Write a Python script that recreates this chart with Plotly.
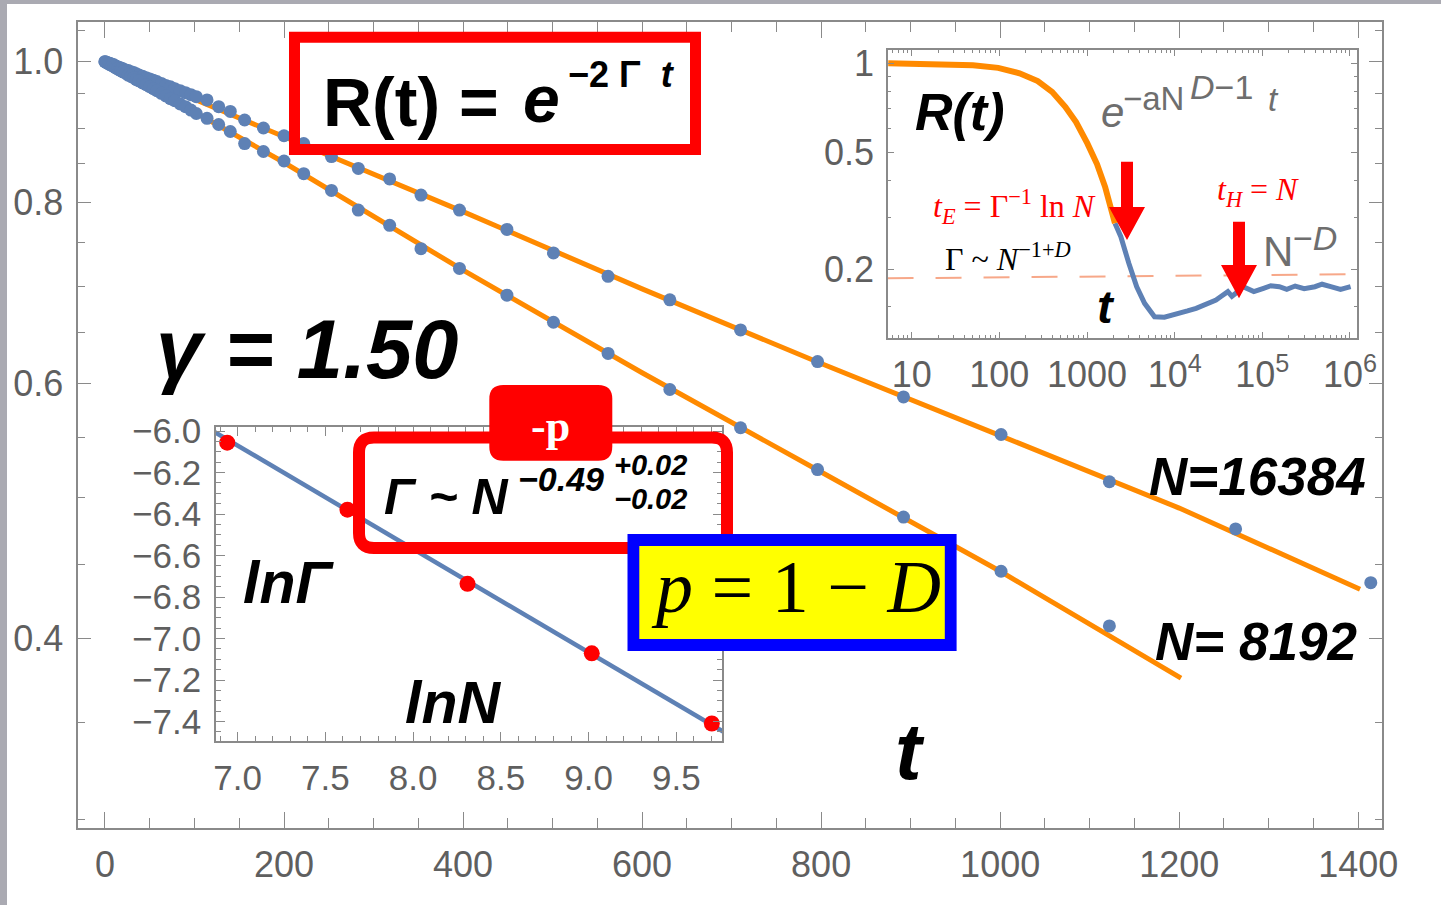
import plotly.graph_objects as go

# ---------------- data ----------------
# main panel: R(t) for two system sizes (log y)
t_obs_16384 = [0, 2, 4, 6, 8, 10, 12, 14, 16, 18, 20, 23, 26, 29, 32, 35, 38, 42, 46, 50, 54, 58,
               63, 68, 73, 78, 84, 90, 96, 102, 114, 127, 140, 156, 177, 200, 222, 253, 283, 318,
               353, 396, 449, 501, 562, 631, 710, 796, 892, 1001, 1122, 1263, 1414]
R_obs_16384 = [1.000, 0.999, 0.998, 0.997, 0.996, 0.995, 0.993, 0.992, 0.991, 0.990, 0.989, 0.987,
               0.986, 0.984, 0.983, 0.981, 0.979, 0.977, 0.975, 0.973, 0.971, 0.969, 0.966, 0.963,
               0.961, 0.958, 0.955, 0.952, 0.949, 0.946, 0.941, 0.931, 0.924, 0.9115, 0.900, 0.889,
               0.878, 0.860, 0.844, 0.830, 0.809, 0.790, 0.766, 0.738, 0.711, 0.685, 0.653, 0.621,
               0.587, 0.553, 0.513, 0.476, 0.437]
t_obs_8192 = [0, 2, 4, 6, 8, 10, 12, 14, 16, 18, 20, 23, 26, 29, 32, 35, 38, 42, 46, 50, 54, 58,
              63, 68, 73, 78, 84, 90, 96, 102, 114, 127, 140, 156, 177, 200, 222, 253, 283, 318,
              353, 396, 449, 501, 562, 631, 710, 796, 892, 1001, 1122]
R_obs_8192 = [1.000, 0.998, 0.997, 0.995, 0.994, 0.992, 0.990, 0.989, 0.987, 0.986, 0.984, 0.982,
              0.979, 0.977, 0.975, 0.972, 0.970, 0.967, 0.964, 0.961, 0.958, 0.955, 0.951, 0.947,
              0.943, 0.940, 0.935, 0.931, 0.926, 0.921, 0.914, 0.905, 0.895, 0.878, 0.867, 0.854,
              0.837, 0.815, 0.790, 0.771, 0.743, 0.720, 0.690, 0.661, 0.629, 0.594, 0.559, 0.523,
              0.485, 0.445, 0.408]
t_fit_16384 = [0, 200, 400, 600, 800, 1000, 1200, 1402]
R_fit_16384 = [1.0, 0.888, 0.788, 0.697, 0.619, 0.552, 0.492, 0.4325]
t_fit_8192 = [0, 200, 400, 600, 800, 1000, 1202]
R_fit_8192 = [1.0, 0.852, 0.718, 0.610, 0.521, 0.445, 0.3755]

# upper-right inset: long-time R(t), log-log
t_in_exp = [5.4, 10, 20, 50, 97, 170, 274, 400, 565, 750, 1009, 1300, 1607, 1850, 2083]
R_in_exp = [1.0, 0.998, 0.995, 0.985, 0.965, 0.925, 0.870, 0.800, 0.712, 0.632, 0.535, 0.455,
            0.381, 0.330, 0.2865]
t_in_sim = [2083, 2432, 2999, 3690, 4540, 5890, 7640, 10450, 14000, 17570, 22000, 26000, 29600,
            34000, 40450, 45000, 49800, 57000, 67900, 80000, 103200, 125000, 156400, 190000,
            237000, 300000, 398000, 480000, 603000, 780000, 1016000]
R_in_sim = [0.2865, 0.258, 0.2096, 0.1746, 0.1533, 0.138, 0.1375, 0.1418, 0.1445, 0.1475, 0.152,
            0.1545, 0.1574, 0.162, 0.168, 0.162, 0.1658, 0.176, 0.171, 0.168, 0.1724, 0.176,
            0.1746, 0.171, 0.1755, 0.172, 0.1746, 0.178, 0.1746, 0.171, 0.1746]
t_in_level = [5.3, 1.2e6]
R_in_level = [0.1864, 0.1924]

# lower-left inset: ln Gamma vs ln N
lnN_pts = [6.941, 7.626, 8.310, 9.018, 9.702]
lnG_pts = [-6.056, -6.379, -6.736, -7.071, -7.409]
lnN_fit = [6.85, 9.78]
lnG_fit = [-5.995, -7.455]

# tick labels
main_x_ticks = [0, 200, 400, 600, 800, 1000, 1200, 1400]
main_x_labels = ["0", "200", "400", "600", "800", "1000", "1200", "1400"]
main_y_ticks = [0.4, 0.6, 0.8, 1.0]
main_y_labels = ["0.4", "0.6", "0.8", "1.0"]
in1_x_ticks = [10, 100, 1000, 1e4, 1e5, 1e6]
in1_x_labels = ["10", "100", "1000", "10<sup>4</sup>", "10<sup>5</sup>", "10<sup>6</sup>"]
in1_y_ticks = [0.2, 0.5, 1]
in1_y_labels = ["0.2", "0.5", "1"]
in2_x_ticks = [7.0, 7.5, 8.0, 8.5, 9.0, 9.5]
in2_x_labels = ["7.0", "7.5", "8.0", "8.5", "9.0", "9.5"]
in2_y_ticks = [-7.4, -7.2, -7.0, -6.8, -6.6, -6.4, -6.2, -6.0]
in2_y_labels = ["\u22127.4", "\u22127.2", "\u22127.0", "\u22126.8", "\u22126.6", "\u22126.4",
                "\u22126.2", "\u22126.0"]

# ---------------- style ----------------
W, H = 1441, 905
BLUE = "#5E81B5"
ORANGE = "#FF8A00"
RED = "#FF0000"
FRAME = "#8a8a8a"
TICKC = "#5f5f5f"
GRAY = "#6e6e6e"
SANS = "Liberation Sans, Arial, sans-serif"
SERIF = "Liberation Serif, Times New Roman, serif"


def X(px):
    return px / W


def Y(py):
    return 1 - py / H


fig = go.Figure()

# main panel
fig.add_trace(go.Scatter(x=t_fit_16384, y=R_fit_16384, mode="lines",
                         line=dict(color=ORANGE, width=5), xaxis="x", yaxis="y"))
fig.add_trace(go.Scatter(x=t_fit_8192, y=R_fit_8192, mode="lines",
                         line=dict(color=ORANGE, width=5), xaxis="x", yaxis="y"))
fig.add_trace(go.Scatter(x=t_obs_16384, y=R_obs_16384, mode="markers",
                         marker=dict(color=BLUE, size=13, line=dict(width=0)), xaxis="x", yaxis="y"))
fig.add_trace(go.Scatter(x=t_obs_8192, y=R_obs_8192, mode="markers",
                         marker=dict(color=BLUE, size=13, line=dict(width=0)), xaxis="x", yaxis="y"))

# inset 1
fig.add_trace(go.Scatter(x=t_in_level, y=R_in_level, mode="lines",
                         line=dict(color="#F7A889", width=2, dash="26px,22px"), xaxis="x2", yaxis="y2"))
fig.add_trace(go.Scatter(x=t_in_sim, y=R_in_sim, mode="lines",
                         line=dict(color=BLUE, width=5), xaxis="x2", yaxis="y2"))
fig.add_trace(go.Scatter(x=t_in_exp, y=R_in_exp, mode="lines",
                         line=dict(color=ORANGE, width=6), xaxis="x2", yaxis="y2"))

# inset 2
fig.add_trace(go.Scatter(x=lnN_fit, y=lnG_fit, mode="lines",
                         line=dict(color=BLUE, width=4.5), xaxis="x3", yaxis="y3"))
fig.add_trace(go.Scatter(x=lnN_pts, y=lnG_pts, mode="markers",
                         marker=dict(color=RED, size=16, line=dict(width=0)), xaxis="x3", yaxis="y3"))


def axis_common(size):
    return dict(showline=True, linecolor=FRAME, linewidth=1.6, mirror="ticks", ticks="inside",
                tickcolor=FRAME, tickwidth=1.3, showgrid=False, zeroline=False, automargin=False,
                tickfont=dict(family=SANS, size=size, color=TICKC), tickmode="array")


in1_minor_x = [k * 10 ** d for d in range(0, 6) for k in range(2, 10)]
in2_minor_x = [6.9 + 0.1 * i for i in range(29)]
in2_minor_y = [-7.45 + 0.05 * i for i in range(30)]

fig.update_layout(
    width=W, height=H, margin=dict(l=0, r=0, t=0, b=0, pad=0, autoexpand=False), autosize=False,
    paper_bgcolor="#aaaab2", plot_bgcolor="white", showlegend=False, hovermode=False,
    xaxis=dict(**axis_common(36), domain=[X(78.3), X(1381.7)], range=[-29.8, 1426.2],
               tickvals=main_x_ticks, ticktext=main_x_labels, ticklen=16, anchor="y",
               ticklabelstandoff=4,
               minor=dict(tickvals=[v for v in range(50, 1426, 50) if v % 200], ticklen=10,
                          ticks="inside", tickcolor=FRAME, tickwidth=1.3)),
    yaxis=dict(**axis_common(36), type="log", domain=[Y(827.7), Y(21.7)], range=[-0.5286, 0.0276],
               tickvals=main_y_ticks, ticktext=main_y_labels, ticklen=13, anchor="x",
               ticklabelstandoff=6,
               minor=dict(tickvals=[0.3, 0.35, 0.45, 0.5, 0.55, 0.65, 0.7, 0.75, 0.85, 0.9, 0.95, 1.05],
                          ticklen=7, ticks="inside", tickcolor=FRAME, tickwidth=1.3)),
    xaxis2=dict(**axis_common(36), type="log", domain=[X(888), X(1357)], range=[0.7296, 6.080],
                tickvals=in1_x_ticks, ticktext=in1_x_labels, ticklen=6, anchor="y2",
                ticklabelstandoff=4,
                minor=dict(tickvals=in1_minor_x, ticklen=3, ticks="inside", tickcolor=FRAME)),
    yaxis2=dict(**axis_common(36), type="log", domain=[Y(338), Y(50)], range=[-0.932, 0.0451],
                tickvals=in1_y_ticks, ticktext=in1_y_labels, ticklen=6, anchor="x2",
                ticklabelstandoff=5,
                minor=dict(tickvals=[0.15, 0.3, 0.4, 0.6, 0.7, 0.8, 0.9], ticklen=3, ticks="inside",
                           tickcolor=FRAME)),
    xaxis3=dict(**axis_common(35), domain=[X(216), X(722)], range=[6.877, 9.760],
                tickvals=in2_x_ticks, ticktext=in2_x_labels, ticklen=9, anchor="y3",
                ticklabelstandoff=5,
                minor=dict(tickvals=in2_minor_x, ticklen=5, ticks="inside", tickcolor=FRAME)),
    yaxis3=dict(**axis_common(35), domain=[Y(740.7), Y(426.7)], range=[-7.492, -5.979],
                tickvals=in2_y_ticks, ticktext=in2_y_labels, ticklen=9, anchor="x3",
                ticklabelstandoff=6,
                minor=dict(tickvals=in2_minor_y, ticklen=5, ticks="inside", tickcolor=FRAME)),
)


def P(px, py):
    return f"{X(px):.5f},{Y(py):.5f}"


def rrect(x0, y0, x1, y1, r):
    return (f"M {P(x0 + r, y0)} L {P(x1 - r, y0)} Q {P(x1, y0)} {P(x1, y0 + r)} "
            f"L {P(x1, y1 - r)} Q {P(x1, y1)} {P(x1 - r, y1)} L {P(x0 + r, y1)} "
            f"Q {P(x0, y1)} {P(x0, y1 - r)} L {P(x0, y0 + r)} Q {P(x0, y0)} {P(x0 + r, y0)} Z")


def arrow(xc, ytop, yneck, ytip, shaft_w, head_w):
    return (f"M {P(xc - shaft_w / 2, ytop)} L {P(xc + shaft_w / 2, ytop)} "
            f"L {P(xc + shaft_w / 2, yneck)} L {P(xc + head_w / 2, yneck)} L {P(xc, ytip)} "
            f"L {P(xc - head_w / 2, yneck)} L {P(xc - shaft_w / 2, yneck)} Z")


shapes = [
    dict(type="rect", xref="paper", yref="paper", x0=X(7), x1=1, y0=0, y1=Y(4),
         fillcolor="white", line=dict(width=0), layer="below"),
    dict(type="rect", xref="paper", yref="paper", x0=X(294.5), x1=X(695.5), y0=Y(149.5), y1=Y(37.2),
         line=dict(color=RED, width=11), layer="above"),
    dict(type="path", xref="paper", yref="paper", path=rrect(359, 437.5, 727, 548, 15),
         line=dict(color=RED, width=12), layer="above"),
    dict(type="path", xref="paper", yref="paper", path=rrect(489.3, 385, 612.3, 460.7, 14),
         fillcolor=RED, line=dict(width=0), layer="above"),
    dict(type="rect", xref="paper", yref="paper", x0=X(633.4), x1=X(950.7), y0=Y(645), y1=Y(540),
         fillcolor="#FFFF00", line=dict(color="#0000FF", width=11.8), layer="above"),
    dict(type="path", xref="paper", yref="paper", path=arrow(1127, 161.7, 207, 240, 12, 36),
         fillcolor=RED, line=dict(width=0), layer="above"),
    dict(type="path", xref="paper", yref="paper", path=arrow(1239, 221.7, 265, 298.3, 12, 36),
         fillcolor=RED, line=dict(width=0), layer="above"),
]


def ann(text, px, py, size, color="black", family=SANS, bold=False, italic=False, xanchor="left"):
    return dict(text=text, x=X(px), y=Y(py), xref="paper", yref="paper", showarrow=False,
                xanchor=xanchor, yanchor="middle",
                font=dict(family=family, size=size, color=color,
                          weight="bold" if bold else "normal",
                          style="italic" if italic else "normal"))


annotations = [
    ann("R(t) =", 321, 101.7, 68, bold=True),
    ann("e", 521, 99, 66, bold=True, italic=True),
    ann("\u22122\u00a0\u0393\u00a0\u00a0<i>t</i>", 566, 74.2, 36, bold=True),
    ann("\u03b3 = 1.50", 154, 349, 83, bold=True, italic=True),
    ann("N=16384", 1147, 476.5, 53, bold=True, italic=True),
    ann("N= 8192", 1153, 641, 53, bold=True, italic=True),
    ann("t", 910, 751.5, 80, bold=True, italic=True, xanchor="center"),
    ann("ln\u0393", 241, 583.4, 59, bold=True, italic=True),
    ann("lnN", 402.7, 703.4, 59, bold=True, italic=True),
    ann("-p", 550.8, 426.9, 44, color="white", family=SERIF, bold=True, xanchor="center"),
    ann("\u0393 ~ N", 381.7, 497, 50, bold=True, italic=True),
    ann("\u22120.49", 516, 479, 34, bold=True, italic=True),
    ann("+0.02", 612, 465, 29, bold=True, italic=True),
    ann("\u22120.02", 612, 499, 29, bold=True, italic=True),
    ann("<i>p</i> = 1 \u2212 <i>D</i>", 649, 587, 74, family=SERIF),
    # inset 1 labels
    ann("R(t)", 913, 112.5, 52, bold=True, italic=True),
    ann("e", 1099, 112.4, 42, color=GRAY, italic=True),
    ann("\u2212aN", 1121, 98.5, 33, color=GRAY),
    ann("<i>D</i>\u22121", 1188, 86.5, 34, color=GRAY),
    ann("t", 1266, 100, 33, color=GRAY, italic=True),
    ann("<i>t</i><sub><i>E</i></sub> = \u0393<sup>\u22121</sup> ln <i>N</i>", 930.7, 206.7, 32,
        color=RED, family=SERIF),
    ann("\u0393 ~ <i>N</i><sup>\u22121+<i>D</i></sup>", 942.6, 256.7, 32, family=SERIF),
    ann("<i>t</i><sub><i>H</i></sub> = <i>N</i>", 1215, 191, 32, color=RED, family=SERIF),
    ann("N", 1261, 251.7, 42, color=GRAY),
    ann("\u2212<i>D</i>", 1291, 238.4, 34, color=GRAY),
    ann("t", 1106, 306.5, 47, bold=True, italic=True, xanchor="center"),
]

fig.update_layout(shapes=shapes, annotations=annotations)
fig.write_html("out.html")
